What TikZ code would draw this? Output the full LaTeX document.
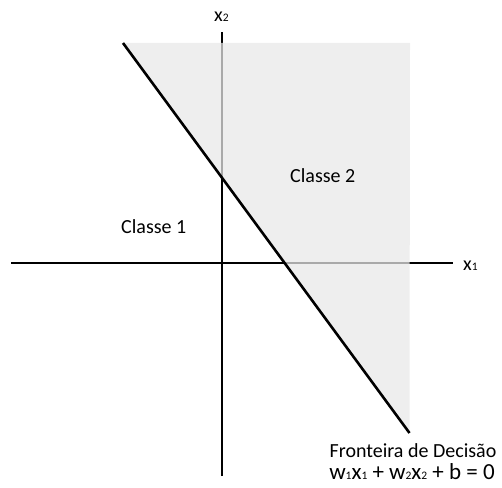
\documentclass[tikz,border=0pt]{standalone}
\usepackage{fontspec}
\setmainfont{Carlito}
\newcommand\subd[1]{{\fontsize{11.5}{11.5}\selectfont #1}}
\begin{document}
\begin{tikzpicture}[x=1pt,y=-1pt,
  axis/.style={line width=1.1pt,black},
  boundary/.style={line width=2.6pt,black},
  region/.style={fill=black!9,fill opacity=0.73},
  lbl/.style={inner sep=0pt,anchor=base west,font=\fontsize{20}{22}\selectfont}]
\useasboundingbox (0,0) rectangle (502,487);
% axes
\coordinate (yt) at (222,32);
\coordinate (yb) at (222,476);
\coordinate (xl) at (11,263);
\coordinate (xr) at (453,263);
\draw[axis] (xl) -- (xr);
\draw[axis] (yb) -- (yt);
% shaded half-plane
\coordinate (lt) at (123,43);
\coordinate (rt) at (410,43);
\coordinate (lb) at (409.5,433);
\fill[region] (lt) -- (rt) -- (lb) -- cycle;
\draw[boundary] (lt) -- (lb);
% labels
\node[lbl] (x2) at (214,22) {x\subd{2}};
\node[lbl] (x1) at (463,270) {x\subd{1}};
\node[lbl] (c2) at (290,182) {Classe 2};
\node[lbl] (c1) at (121,233) {Classe 1};
\node[lbl,anchor=base] (fd) at (413,457) {Fronteira de Decisão};
\node[lbl,anchor=base,font=\fontsize{23}{25}\selectfont] (eq) at (412,479) {w\subd{1}x\subd{1} + w\subd{2}x\subd{2} + b = 0};
\end{tikzpicture}
\end{document}
